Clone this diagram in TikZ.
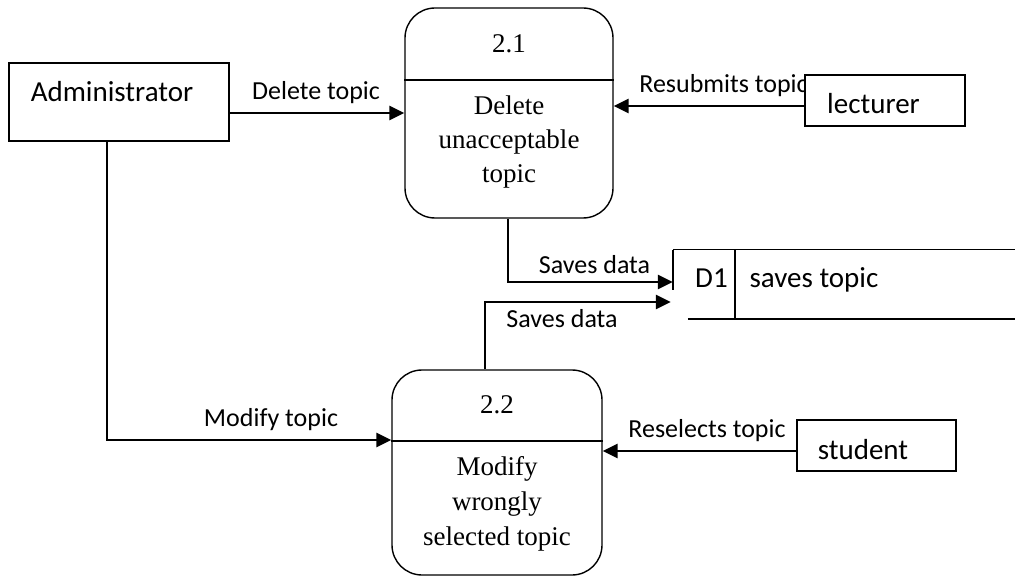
\documentclass[tikz,border=0pt]{standalone}
\usepackage{fontspec}
\setmainfont{Carlito}
\newfontfamily\procfont{Liberation Serif}
\usetikzlibrary{arrows.meta,calc}

\begin{document}
\begin{tikzpicture}[x=1pt,y=-1pt,
  entity/.style={draw, line width=1.6pt, fill=white, rectangle, inner sep=0pt},
  proc/.style={draw, line width=1.4pt, rounded corners=30pt, fill=white, rectangle, inner sep=0pt},
  divider/.style={line width=1.4pt},
  flow/.style={line width=2.6pt, -{Triangle[length=15pt,width=14pt]}},
  flowlabel/.style={font=\fontsize{26}{31}\selectfont, inner sep=0pt, anchor=base},
  entlabel/.style={font=\fontsize{29}{34}\selectfont, inner sep=0pt, anchor=base},
  proctext/.style={font=\procfont\fontsize{27}{34}\selectfont, align=center, inner sep=0pt, anchor=base},
  storeline/.style={line width=1.4pt}]

\useasboundingbox (0,0) rectangle (1015,577);

% flow labels (set first so the entity boxes sit on top of them)
\node[flowlabel] (ldel)  at (316,100)   {Delete topic};
\node[flowlabel] (lres)  at (723.5,93)  {Resubmits topic};
\node[flowlabel] (lsv1)  at (594.5,274) {Saves data};
\node[flowlabel] (lsv2)  at (562,328)   {Saves data};
\node[flowlabel] (lmod)  at (271,426)   {Modify topic};
\node[flowlabel] (lrsel) at (707,437)   {Reselects topic};

% external entities
\node[entity, minimum width=220pt, minimum height=78pt] (admin) at (119,102) {};
\node[entlabel] (admintxt) at (112,102) {Administrator};

\node[entity, minimum width=160pt, minimum height=51pt] (lect) at (885,100.5) {};
\node[entlabel] (lecttxt) at (873.5,114) {lecturer};

\node[entity, minimum width=159pt, minimum height=51pt] (stu) at (876.5,445.5) {};
\node[entlabel] (stutxt) at (863,459) {student};

% processes
\node[proc, minimum width=208pt, minimum height=210pt] (p21) at (509,113) {};
\draw[divider] (p21.west |- 0,80) -- (p21.east |- 0,80);
\node[proctext] (p21num) at (509,53) {2.1};
\node[proctext] (p21txt) at (509,183) {Delete\\unacceptable\\topic};

\node[proc, minimum width=210pt, minimum height=205pt] (p22) at (497,472.5) {};
\draw[divider] (p22.west |- 0,441) -- (p22.east |- 0,441);
\node[proctext] (p22num) at (497,413) {2.2};
\node[proctext, font=\procfont\fontsize{27}{35}\selectfont] (p22txt) at (497,545) {Modify\\wrongly\\selected topic};

% data store D1 (open on the right)
\node[inner sep=0pt, minimum width=342pt, minimum height=69pt] (d1) at (844,284.5) {};
\draw[storeline] (d1.north west) -- (d1.north east);
\draw[storeline] (d1.north west) -- ++(0,40);
\draw[storeline] ([xshift=62pt]d1.north west) -- ([xshift=62pt]d1.south west);
\draw[storeline] ([xshift=15pt]d1.south west) -- (d1.south east);
\node[entlabel] (d1id)  at (711.5,288) {D1};
\node[entlabel] (d1txt) at (814,288)   {saves topic};

% data flows
\draw[flow] ([yshift=-11pt]admin.east) coordinate (fdel) -- (fdel -| p21.west);
\draw[flow] ([yshift=-5.5pt]lect.west) coordinate (fres) -- (fres -| p21.east);
\draw[flow] ([xshift=-1pt]p21.south) |- ([yshift=2.5pt]d1.west);
\draw[flow] ([xshift=-12pt]p22.north) |- ([yshift=-17.5pt,xshift=-2pt]d1.west);
\draw[flow] ([xshift=-12pt]admin.south) |- ([yshift=32.5pt]p22.west);
\draw[flow] ([yshift=-5.5pt]stu.west) coordinate (fsel) -- (fsel -| p22.east);

\end{tikzpicture}
\end{document}
